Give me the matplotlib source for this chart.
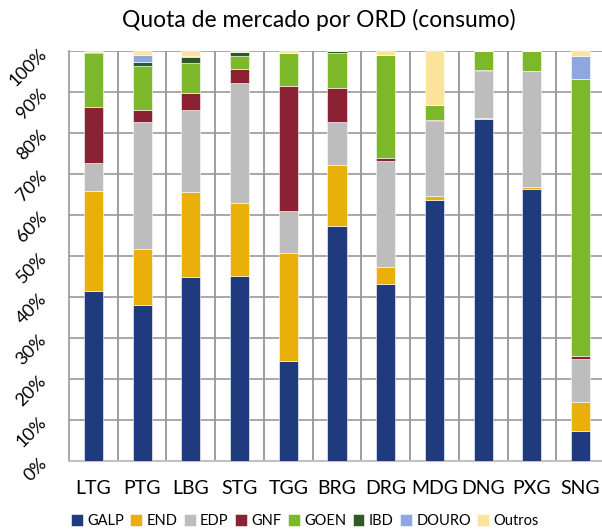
import matplotlib.pyplot as plt
import numpy as np

# Quota de mercado por ORD (consumo) - values in %
categories = ['LTG', 'PTG', 'LBG', 'STG', 'TGG', 'BRG', 'DRG', 'MDG', 'DNG', 'PXG', 'SNG']
galp  = [41.5, 38.1, 45.0, 45.2, 24.4, 57.2, 43.2, 63.7, 83.4, 66.3, 7.3]
end   = [24.3, 13.6, 20.5, 17.7, 26.4, 14.9, 4.1, 1.0, 0.3, 0.5, 7.1]
edp   = [6.8, 30.9, 20.1, 29.2, 10.2, 10.7, 25.8, 18.2, 11.4, 28.4, 10.5]
gnf   = [13.8, 2.9, 4.2, 3.6, 30.4, 8.2, 0.9, 0.3, 0.3, 0.0, 0.7]
goen  = [13.0, 10.8, 7.2, 3.0, 8.2, 8.5, 25.0, 3.7, 4.6, 4.8, 67.5]
ibd   = [0.4, 1.0, 1.5, 1.0, 0.0, 0.5, 0.0, 0.0, 0.0, 0.0, 0.0]
douro = [0.0, 1.7, 0.3, 0.0, 0.0, 0.0, 0.0, 0.0, 0.0, 0.0, 5.7]
outros = [0.2, 1.0, 1.2, 0.3, 0.4, 0.0, 1.0, 13.1, 0.0, 0.0, 1.2]

series = [('GALP', galp, '#1F3A7D'),
          ('END', end, '#E8B008'),
          ('EDP', edp, '#BDBDBD'),
          ('GNF', gnf, '#8B2233'),
          ('GOEN', goen, '#7DB82A'),
          ('IBD', ibd, '#2E5A27'),
          ('DOURO', douro, '#8EA8DF'),
          ('Outros', outros, '#FBE39A')]

plt.rcParams['font.family'] = ['Lato', 'DejaVu Sans']

fig = plt.figure(figsize=(6.02, 5.32), dpi=100)
ax = fig.add_axes([69 / 602, 1 - 461 / 532, 536 / 602, 410 / 532])

x = np.arange(len(categories))
bottom = np.zeros(len(categories))
for name, vals, col in series:
    vals = np.array(vals)
    ax.bar(x, vals, width=0.39, bottom=bottom, color=col, label=name,
           edgecolor='white', linewidth=0.4, zorder=3)
    bottom += vals

ax.set_xlim(-0.5, len(categories) - 0.5)
ax.set_ylim(0, 100)

# gridlines
ax.set_yticks(np.arange(0, 101, 10))
ax.set_yticklabels([f'{v}%' for v in range(0, 101, 10)], rotation=45,
                   ha='right', va='center', rotation_mode='anchor', fontsize=13)
ax.yaxis.grid(True, color='#9a9a9a', linewidth=1.2, zorder=0)
for b in np.arange(0.5, len(categories) - 0.5, 1):
    ax.axvline(b, color='#8c8c8c', linewidth=1.2, zorder=0)

ax.set_xticks(x)
ax.set_xticklabels(categories, fontsize=14)
ax.tick_params(axis='both', length=0)
ax.tick_params(axis='x', pad=14)
ax.tick_params(axis='y', pad=18)

for side in ['top', 'right']:
    ax.spines[side].set_visible(False)
ax.spines['left'].set_color('#9a9a9a')
ax.spines['left'].set_linewidth(1.2)
ax.spines['bottom'].set_color('#c0c0c0')
ax.spines['bottom'].set_linewidth(1.5)

fig.suptitle('Quota de mercado por ORD (consumo)', x=319 / 602, y=1 - 20 / 532,
             va='center', fontsize=16.5)

fig.legend(loc='center', bbox_to_anchor=(305 / 602, 1 - 521 / 532), ncol=8,
           frameon=False, fontsize=10.5, handlelength=0.8, handleheight=0.8,
           handletextpad=0.3, columnspacing=0.45, borderaxespad=0)

fig.savefig('out.png', dpi=100)
